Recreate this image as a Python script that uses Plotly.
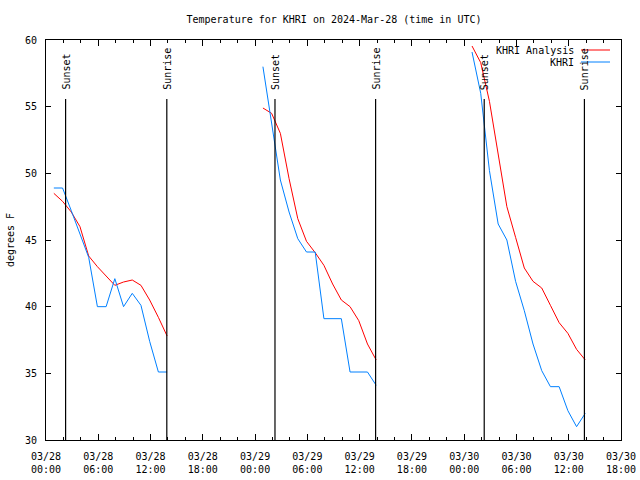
import plotly.graph_objects as go

# ---- data ----
obs_times_d1 = ["2024-03-28 00:54", "2024-03-28 01:54", "2024-03-28 02:54", "2024-03-28 03:54",
                "2024-03-28 04:54", "2024-03-28 05:54", "2024-03-28 06:54", "2024-03-28 07:54",
                "2024-03-28 08:54", "2024-03-28 09:54", "2024-03-28 10:54", "2024-03-28 11:54",
                "2024-03-28 12:54", "2024-03-28 13:54"]
obs_times_d2 = ["2024-03-29 00:54", "2024-03-29 01:54", "2024-03-29 02:54", "2024-03-29 03:54",
                "2024-03-29 04:54", "2024-03-29 05:54", "2024-03-29 06:54", "2024-03-29 07:54",
                "2024-03-29 08:54", "2024-03-29 09:54", "2024-03-29 10:54", "2024-03-29 11:54",
                "2024-03-29 12:54", "2024-03-29 13:54"]
obs_times_d3 = ["2024-03-30 00:54", "2024-03-30 01:54", "2024-03-30 02:54", "2024-03-30 03:54",
                "2024-03-30 04:54", "2024-03-30 05:54", "2024-03-30 06:54", "2024-03-30 07:54",
                "2024-03-30 08:54", "2024-03-30 09:54", "2024-03-30 10:54", "2024-03-30 11:54",
                "2024-03-30 12:54", "2024-03-30 13:54"]

khri_d1 = [48.9, 48.9, 47.2, 45.4, 43.7, 40.0, 40.0, 42.1, 40.0, 41.0, 40.1, 37.4, 35.1, 35.1]
khri_d2 = [58.0, 53.8, 49.5, 47.1, 45.1, 44.1, 44.1, 39.1, 39.1, 39.1, 35.1, 35.1, 35.1, 34.1]
khri_d3 = [59.1, 56.0, 50.2, 46.2, 45.0, 41.9, 39.7, 37.2, 35.2, 34.0, 34.0, 32.2, 31.0, 32.0]

anal_d1 = [48.5, 47.9, 47.1, 46.0, 43.8, 43.0, 42.3, 41.6, 41.85, 42.0, 41.6, 40.5, 39.2, 37.8]
anal_d2 = [54.9, 54.5, 53.0, 49.6, 46.6, 44.9, 44.05, 43.1, 41.7, 40.5, 40.0, 38.95, 37.2, 36.0]
anal_d3 = [59.55, 58.3, 55.4, 51.4, 47.5, 45.2, 42.9, 41.9, 41.4, 40.1, 38.8, 38.0, 36.8, 36.0]

sunset_times = ["2024-03-28 02:15", "2024-03-29 02:17", "2024-03-30 02:18"]
sunrise_times = ["2024-03-28 13:52", "2024-03-29 13:50", "2024-03-30 13:48"]

y_ticks = [30, 35, 40, 45, 50, 55, 60]
x_range = ["2024-03-28 00:00", "2024-03-30 18:00"]

FONT = "DejaVu Sans Mono"
RED = "#ff0000"
BLUE = "#0080ff"


def joined(*parts):
    out = []
    for i, p in enumerate(parts):
        if i:
            out.append(None)
        out.extend(p)
    return out


x_all = joined(obs_times_d1, obs_times_d2, obs_times_d3)

fig = go.Figure()
fig.add_trace(go.Scatter(x=x_all, y=joined(anal_d1, anal_d2, anal_d3), mode="lines",
                         line=dict(color=RED, width=1), name="KHRI Analysis",
                         connectgaps=False))
fig.add_trace(go.Scatter(x=x_all, y=joined(khri_d1, khri_d2, khri_d3), mode="lines",
                         line=dict(color=BLUE, width=1), name="KHRI",
                         connectgaps=False))

LINE_TOP = 55.58
TEXT_BOTTOM = 56.1
for label, times in (("Sunset", sunset_times), ("Sunrise", sunrise_times)):
    for t in times:
        fig.add_shape(type="line", x0=t, x1=t, y0=30, y1=LINE_TOP, xref="x", yref="y",
                      line=dict(color="black", width=1.2))
        fig.add_annotation(x=t, y=TEXT_BOTTOM, xref="x", yref="y", text=label,
                           textangle=-90, showarrow=False, xanchor="center",
                           yanchor="bottom", font=dict(family=FONT, size=10, color="black"))

# manual legend (text left, sample right) in paper coords
plot_l, plot_r, plot_t, plot_b = 46, 621, 40, 440
def px_x(px):
    return (px - plot_l) / (plot_r - plot_l)
def px_y(py):
    return (plot_b - py) / (plot_b - plot_t)

for name, color, py in (("KHRI Analysis", RED, 50), ("KHRI", BLUE, 62)):
    fig.add_annotation(x=px_x(576), y=px_y(py), xref="paper", yref="paper", text=name,
                       showarrow=False, xanchor="right", yanchor="middle",
                       font=dict(family=FONT, size=10, color="black"))
    fig.add_shape(type="line", x0=px_x(581), x1=px_x(610), y0=px_y(py), y1=px_y(py),
                  xref="paper", yref="paper", line=dict(color=color, width=1))

fig.update_layout(
    width=640, height=480,
    margin=dict(l=plot_l, r=640 - plot_r, t=plot_t, b=480 - plot_b, autoexpand=False),
    paper_bgcolor="white", plot_bgcolor="white",
    showlegend=False,
    font=dict(family=FONT, size=10, color="black"),
    title=dict(text="Temperature for KHRI on 2024-Mar-28 (time in UTC)",
               x=(334) / 640, xanchor="center", xref="container",
               y=1 - 19 / 480, yanchor="middle", yref="container",
               font=dict(family=FONT, size=10, color="black")),
    xaxis=dict(type="date", range=x_range, tickformat="%m/%d<br>%H:%M",
               tick0="2024-03-28 00:00", dtick=6 * 3600 * 1000,
               ticks="inside", ticklen=6, tickcolor="black", tickwidth=1,
               minor=dict(dtick=2 * 3600 * 1000, ticks="inside", ticklen=3,
                          tickcolor="black", showgrid=False),
               showline=True, linecolor="black", linewidth=1, mirror="ticks",
               showgrid=False, zeroline=False, automargin=False,
               ticklabelstandoff=7,
               tickfont=dict(family=FONT, size=10, color="black")),
    yaxis=dict(range=[30, 60], tickvals=y_ticks, ticks="inside", ticklen=5,
               tickcolor="black", showline=True, linecolor="black", linewidth=1,
               mirror="ticks", showgrid=False, zeroline=False, automargin=False,
               ticklabelstandoff=6,
               title=dict(text="degrees F", standoff=8,
                          font=dict(family=FONT, size=10, color="black")),
               tickfont=dict(family=FONT, size=10, color="black")),
)

fig.write_html("out.html")
